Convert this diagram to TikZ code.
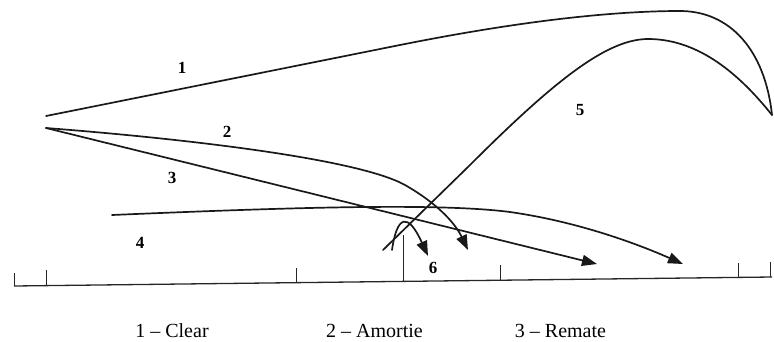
\documentclass[tikz,border=0pt]{standalone}
\usepackage{fontspec}
\setmainfont{Liberation Serif}
\usetikzlibrary{arrows.meta}
\begin{document}
\begin{tikzpicture}[x=1pt,y=-1pt,
  traj/.style={line width=1.7pt, black!90, line cap=round},
  tipped/.style={-{Triangle[length=15pt,width=11pt]}},
  num/.style={font=\fontsize{17}{17}\selectfont\bfseries, inner sep=0pt},
  leg/.style={font=\fontsize{20}{20}\selectfont, inner sep=0pt, anchor=base},
  court/.style={line width=1.3pt, black!85},
  tickmark/.style={line width=1pt, black!85}]
\useasboundingbox (0,0) rectangle (774,341);
% key points
\coordinate (A) at (46,116);
\coordinate (B) at (46,128);
\coordinate (R) at (772,115);
\coordinate (C4) at (112,215);
\coordinate (E5) at (383,250);
\coordinate (S6) at (392,250);
\coordinate (T2) at (468,250);
\coordinate (T3) at (597,264);
\coordinate (T4) at (683,264);
\coordinate (T6) at (428,256);
\coordinate (BL) at (14,286);
\coordinate (BR) at (772,277);
% court line and ticks
\draw[court] (BL) -- (BR);
\draw[tickmark] (14,286) -- (14,273);
\draw[tickmark] (46,285.6) -- (46,270);
\draw[tickmark] (296,282.7) -- (296,268);
\draw[tickmark] (403,281.4) -- (403,235);
\draw[tickmark] (500,280.2) -- (500,265);
\draw[tickmark] (738,277.4) -- (738,263);
\draw[tickmark] (770,277) -- (770,262);
% 1 clear
\draw[traj] (A) -- (400,45) .. controls (530,19) and (620,11) .. (680,11)
  .. controls (730,11) and (765,50) .. (R);
% 5
\draw[traj] (E5) -- (470,165) .. controls (560,75) and (610,38) .. (650,39)
  .. controls (700,40) and (740,75) .. (R);
% 2 amortie
\draw[traj,tipped] (B) .. controls (200,140) and (360,160) .. (405,185)
  .. controls (440,205) and (456,225) .. (T2);
% 3 remate
\draw[traj,tipped] (B) -- (T3);
% 4
\draw[traj,tipped] (C4) .. controls (300,207) and (440,203) .. (510,212)
  .. controls (580,222) and (640,245) .. (T4);
% 6
\draw[traj,tipped] (S6) .. controls (397,215) and (408,212) .. (T6);
% labels
\node[num] (n1) at (182,68) {1};
\node[num] (n2) at (227,132) {2};
\node[num] (n3) at (172,178) {3};
\node[num] (n4) at (140,243) {4};
\node[num] (n5) at (580,110) {5};
\node[num] (n6) at (433,268) {6};
% legend
\node[leg] (g1) at (172,337) {1 -- Clear};
\node[leg] (g2) at (374.5,337) {2 -- Amortie};
\node[leg] (g3) at (560.5,337) {3 -- Remate};
\end{tikzpicture}
\end{document}
